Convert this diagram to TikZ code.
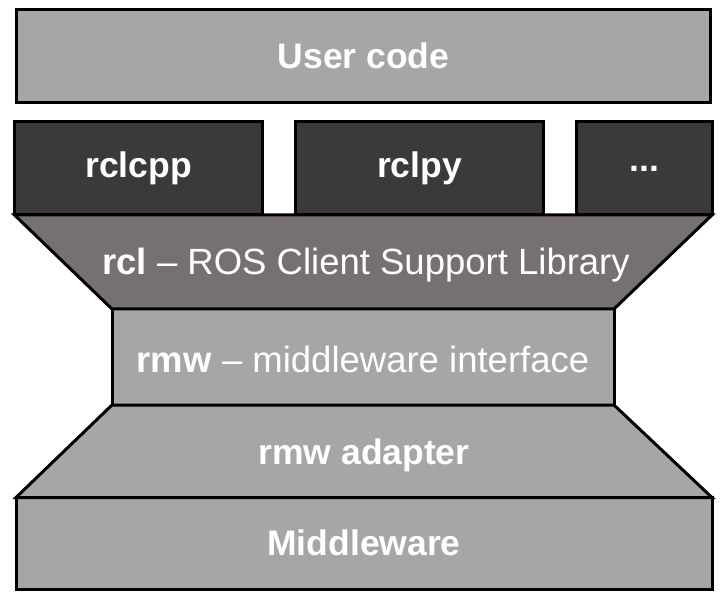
\documentclass[tikz,border=0pt]{standalone}
\usepackage{fontspec}
\setmainfont{Liberation Sans}
\usetikzlibrary{positioning,calc}
\definecolor{layergray}{RGB}{166,166,166}
\definecolor{clientdark}{RGB}{59,58,57}
\definecolor{rclgray}{RGB}{118,113,112}

\begin{document}
\begin{tikzpicture}[x=1pt,y=-1pt,
    layer/.style={draw=black,line width=3pt,fill=layergray,inner sep=0pt,outer sep=0pt,
      text=white,font=\fontsize{35.5}{40}\selectfont\bfseries},
    client/.style={layer,fill=clientdark,minimum height=93pt},
    funnel/.style={draw=black,line width=3pt,line join=miter},
    label/.style={text=white,inner sep=0pt,font=\fontsize{36.5}{40}\selectfont}]
  \useasboundingbox (0,0) rectangle (720,601);
  \node[layer,minimum width=694pt,minimum height=93pt] (user) at (363.5,56) {User code};
  \foreach \n/\cx in {rclcpp/138.5,rclpy/419.5}
    \node[client,minimum width=248pt] (\n) at (\cx,168.5) {\n};
  \node[client,minimum width=135.5pt] (more) at (644.25,168.5) {...};
  \node[layer,minimum width=502pt,minimum height=96pt] (rmw) at (363,357) {};
  \node[layer,minimum width=696pt,minimum height=91.5pt] (mw) at (364,543.25) {Middleware};
  \draw[funnel,fill=rclgray] (rclcpp.south west) -- (more.south east) -- (rmw.north east) -- (rmw.north west) -- cycle;
  \draw[funnel,fill=layergray] (rmw.south west) -- (rmw.south east) -- (mw.north east) -- (mw.north west) -- cycle;
  \node[label] (rcl) at (366,265) {\textbf{rcl} -- ROS Client Support Library};
  \node[label] (rmwtext) at (363,359) {\textbf{rmw} -- middleware interface};
  \node[label,font=\fontsize{35.5}{40}\selectfont\bfseries] (adapter) at (364,455) {rmw adapter};
\end{tikzpicture}
\end{document}
